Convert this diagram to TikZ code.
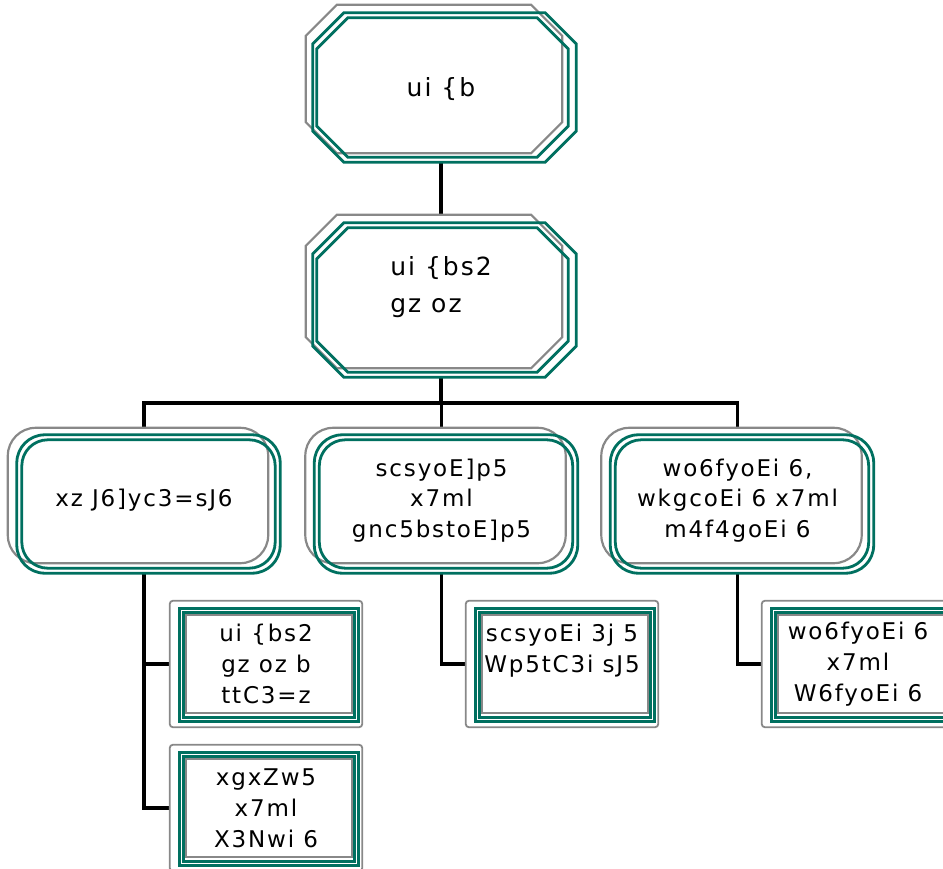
\documentclass[tikz,border=0pt]{standalone}
\usepackage{fontspec}
\setmainfont{DejaVu Sans}[LetterSpace=8]
\usetikzlibrary{calc}
\definecolor{boxgreen}{RGB}{0,112,96}
\definecolor{boxgray}{RGB}{136,136,136}
\tikzset{
  rim/.style={draw=boxgreen, line width=2.8pt},
  ghost/.style={draw=boxgray, line width=2.2pt},
  link/.style={draw=black, line width=3.6pt},
  octbox/.style={minimum width=270pt, minimum height=157pt, inner sep=0pt, align=center, font=\fontsize{25}{37}\selectfont},
  roundbox/.style={minimum width=272pt, minimum height=145pt, inner sep=0pt, align=center, font=\fontsize{23}{30.5}\selectfont},
  flatbox/.style={minimum width=192pt, minimum height=126pt, inner sep=0pt, align=center, font=\fontsize{23}{31}\selectfont},
}
% octagon outline inside a node, #3 = inset top left, #4 = inset bottom right
\newcommand\octframe[4]{%
  \draw[#1] let \p1=($(#2.north west)+(#3)$), \p2=($(#2.south east)-(#4)$) in
    ({\x1+31pt},\y1) -- ({\x2-31pt},\y1) -- (\x2,{\y1-31pt}) -- (\x2,{\y2+31pt})
    -- ({\x2-31pt},\y2) -- ({\x1+31pt},\y2) -- (\x1,{\y2+31pt}) -- (\x1,{\y1-31pt}) -- cycle;}
\newcommand\rectframe[4]{%
  \draw[#1] ($(#2.north west)+(#3)$) rectangle ($(#2.south east)-(#4)$);}

\begin{document}
\begin{tikzpicture}[x=1pt, y=-1pt]
\useasboundingbox (0,0) rectangle (943,869);

\node[octbox, text height=31pt, text depth=5pt] (top) at (441,83.5) {ui \{b};
\node[octbox, minimum height=162pt, align=left] (mid) at (441,296) {\\[-4pt]ui \{bs2\\gz oz\\\mbox{}};

\node[roundbox] (cl) at (144,500.5) {xz J6]yc3=sJ6};
\node[roundbox] (cm) at (441.5,500.5) {scsyoE]p5\\x7ml\\gnc5bstoE]p5};
\node[roundbox] (cr) at (737.5,500.5) {wo6fyoEi 6,\\wkgcoEi 6 x7ml\\m4f4goEi 6};

\node[flatbox] (la) at (266,664) {ui \{bs2\\gz oz b\\ttC3=z};
\node[flatbox] (lb) at (266,808) {xgxZw5\\x7ml\\X3Nwi 6};
\node[flatbox] (ma) at (562,664) {scsyoEi 3j 5\\Wp5tC3i sJ5\\\mbox{}};
\node[flatbox] (ra) at (858,664) {wo6fyoEi 6\\x7ml\\W6fyoEi 6};

% connectors
\draw[link] (top.south) -- (mid.north);
\draw[link] (mid.south) -- ++(0,26) coordinate (bus);
\draw[link] (bus) -| (cl.north);
\draw[link] (bus) -| (cm.north);
\draw[link] (bus) -| (cr.north);
\draw[link] (cl.south) |- (la.west);
\draw[link] (cl.south) |- (lb.west);
\draw[link] (cm.south) |- (ma.west);
\draw[link] (cr.south) |- (ra.west);

% frames
\foreach \b in {top,mid} {
  \octframe{ghost}{\b}{0,0}{14,9}
  \octframe{rim}{\b}{7,8}{0,0}
  \octframe{rim}{\b}{11,13}{8,5}
}
\foreach \b in {cl,cm,cr} {
  \rectframe{ghost, rounded corners=28pt}{\b}{0,0}{12,10}
  \rectframe{rim, rounded corners=28pt}{\b}{9,7}{0,0}
  \rectframe{rim, rounded corners=26pt}{\b}{14,12}{5,5}
}
\foreach \b in {la,lb,ma,ra} {
  \rectframe{ghost, line width=1.8pt, rounded corners=3pt}{\b}{0,0}{0,0}
  \rectframe{ghost}{\b}{16,14}{10,14}
  \rectframe{rim}{\b}{10,8}{4,6}
  \rectframe{rim}{\b}{14,12}{8,10}
}
\end{tikzpicture}
\end{document}
